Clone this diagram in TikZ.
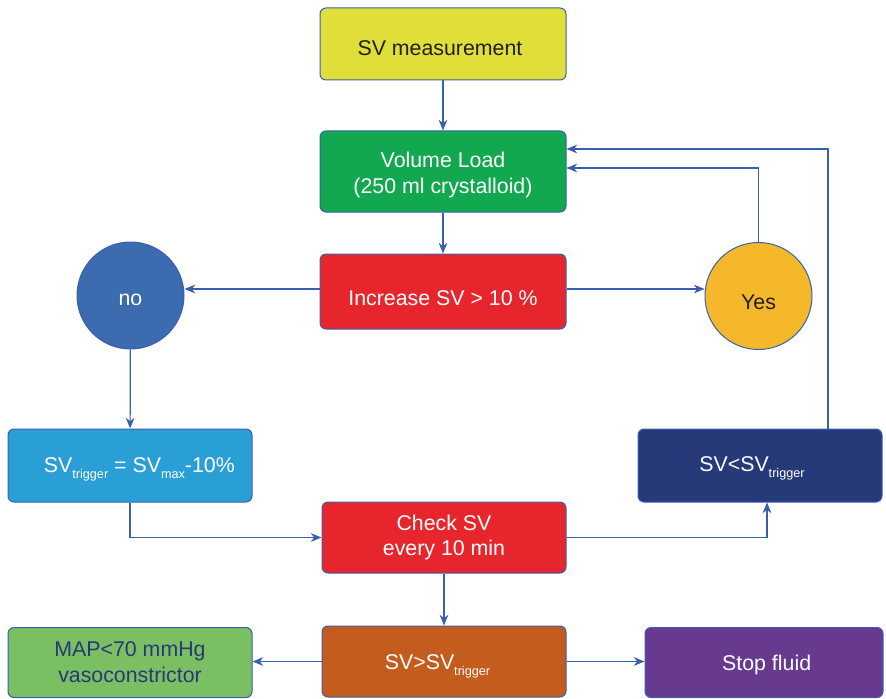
\documentclass[tikz,border=0pt]{standalone}
\usepackage{fontspec}
\setmainfont{Liberation Sans}
\usetikzlibrary{arrows.meta}

\definecolor{lineblue}{RGB}{58,95,175}
\definecolor{measyellow}{RGB}{224,223,58}
\definecolor{loadgreen}{RGB}{18,168,80}
\definecolor{checkred}{RGB}{230,38,44}
\definecolor{noblue}{RGB}{60,107,176}
\definecolor{yesorange}{RGB}{244,184,42}
\definecolor{trigblue}{RGB}{42,159,214}
\definecolor{navyblue}{RGB}{38,58,122}
\definecolor{rustorange}{RGB}{196,92,30}
\definecolor{mapgreen}{RGB}{123,191,99}
\definecolor{stoppurple}{RGB}{103,58,144}
\definecolor{darktext}{RGB}{35,31,32}

\newcommand{\lowsub}[1]{\raisebox{-4.5pt}{\fontsize{9.5}{10}\selectfont #1}}

\tikzset{
  flowbox/.style={draw=lineblue, line width=0.75pt, rounded corners=4.5pt, align=center,
    minimum width=183pt, minimum height=54pt, text=white, font=\fontsize{16}{19.5}\selectfont},
  decision/.style={circle, draw=lineblue, line width=0.75pt, minimum size=80.25pt,
    inner sep=0pt, font=\fontsize{16}{19.5}\selectfont},
  oneline/.style={text height=#1, text depth=0pt},
  oneline/.default=11.5pt,
  flowarrow/.style={draw=lineblue, line width=0.9pt, -{Stealth[length=8pt,width=6.5pt,inset=2.5pt]}}
}

\begin{document}
\begin{tikzpicture}[x=0.75pt,y=0.75pt,yscale=-1,xscale=1]
\useasboundingbox (0,0) rectangle (886,699);

%Shape: Rectangle [meas]
\node [flowbox, oneline=16.7pt, fill=measyellow, text=darktext, minimum width=184.5pt] (meas) at (443,44) {SV measurement\hspace{4.5pt}};
%Shape: Rectangle [vol]
\node [flowbox, fill=loadgreen, minimum width=184.5pt, minimum height=60.75pt] (vol) at (443,171.5) {\rule{0pt}{17pt}Volume Load\\(250 ml crystalloid)};
%Shape: Rectangle [inc]
\node [flowbox, oneline=21.7pt, fill=checkred, minimum width=184.5pt, minimum height=56.25pt] (inc) at (443,291.5) {Increase SV {>} 10 \%};

%Shape: Circle [no]
\node [decision, oneline=14.6pt, fill=noblue, text=white] (no) at (130.5,295.5) {no};
%Shape: Circle [yes]
\node [decision, oneline=20.5pt, fill=yesorange, text=darktext] (yes) at (758.5,296) {Yes\hspace{12pt}};

%Shape: Rectangle [trig]
\node [flowbox, oneline=10pt, fill=trigblue, minimum height=54.75pt] (trig) at (130,465.5) {\hspace{14pt}SV\lowsub{trigger} = SV\lowsub{max}-10\%};
%Shape: Rectangle [below]
\node [flowbox, oneline=8.5pt, fill=navyblue, minimum height=54.75pt] (below) at (760,465.5) {SV{<}SV\lowsub{trigger}\hspace{12pt}};
%Shape: Rectangle [check]
\node [flowbox, fill=checkred, minimum height=53.25pt, font=\fontsize{16}{18.2}\selectfont] (check) at (444,537.5) {Check SV\\every 10 min};

%Shape: Rectangle [above]
\node [flowbox, oneline, fill=rustorange, minimum height=53.25pt] (above) at (444,661.5) {SV{>}SV\lowsub{trigger}\hspace{9.75pt}};
%Shape: Rectangle [map]
\node [flowbox, fill=mapgreen, text=navyblue, minimum height=52.5pt] (map) at (130,662.5) {MAP{<}70 mmHg\\vasoconstrictor};
%Shape: Rectangle [stop]
\node [flowbox, oneline, fill=stoppurple, minimum width=178.5pt, minimum height=52.5pt] (stop) at (764,662.5) {\hspace{4pt}Stop fluid};

% Connectors
\draw [flowarrow] (meas) -- (vol);
\draw [flowarrow] (vol) -- (inc);
\draw [flowarrow] (inc.west |- 0,289) -- (no.east |- 0,289);
\draw [flowarrow] (inc.east |- 0,289) -- (yes.west |- 0,289);
\draw [flowarrow] (yes.north) |- (vol.east |- 0,168);
\draw [flowarrow] (828,0 |- below.north) |- (vol.east |- 0,149);
\draw [flowarrow] (no) -- (trig);
\draw [flowarrow] (trig.south) |- (check.west);
\draw [flowarrow] (check.east) -| (767,0 |- below.south);
\draw [flowarrow] (check) -- (above);
\draw [flowarrow] (above.west) -- (map.east |- above.west);
\draw [flowarrow] (above.east) -- (stop.west |- above.east);

\end{tikzpicture}
\end{document}
